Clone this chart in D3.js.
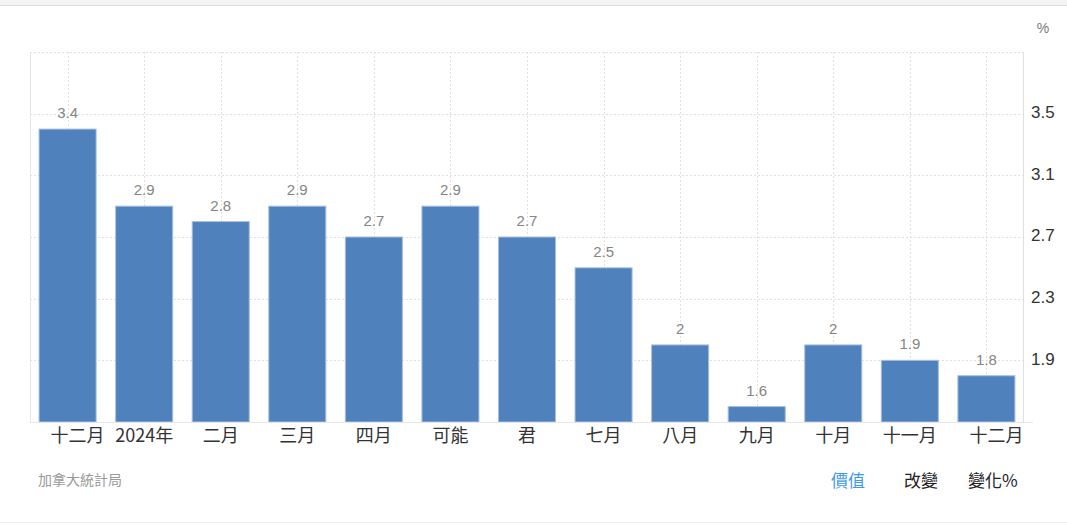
<!DOCTYPE html>
<html>
<head>
<meta charset="utf-8">
<script src="https://cdn.jsdelivr.net/npm/d3@7"></script>
<style>
html,body{margin:0;padding:0;background:#fff;}
svg{display:block;font-family:"Noto Sans CJK TC","Noto Sans",Arial,sans-serif;}
</style>
</head>
<body>
<svg id="chart" width="1067" height="525"></svg>
<script>
const categories = ["十二月","2024年","二月","三月","四月","可能","君","七月","八月","九月","十月","十一月","十二月"];
const values = [3.4, 2.9, 2.8, 2.9, 2.7, 2.9, 2.7, 2.5, 2.0, 1.6, 2.0, 1.9, 1.8];
const valueLabels = ["3.4","2.9","2.8","2.9","2.7","2.9","2.7","2.5","2","1.6","2","1.9","1.8"];
const yTicks = [1.9, 2.3, 2.7, 3.1, 3.5];
const yDomain = [1.5, 3.9];
const legendItems = ["價值","改變","變化%"];
const sourceText = "加拿大統計局";
const unitText = "%";

const svg = d3.select("#chart");
const W = 1067, H = 525;
const plot = {left: 30, right: 1023, top: 52, bottom: 422};

// top strip and bottom line
svg.append("rect").attr("x",0).attr("y",0).attr("width",W).attr("height",5).attr("fill","#f4f4f4");
svg.append("line").attr("x1",0).attr("x2",W).attr("y1",5.5).attr("y2",5.5).attr("stroke","#dcdcdc");
svg.append("line").attr("x1",0).attr("x2",W).attr("y1",522.5).attr("y2",522.5).attr("stroke","#ececec");

const x = d3.scaleBand().domain(d3.range(categories.length)).range([plot.left - 0.5, plot.right + 1.5]).paddingInner(0.255).paddingOuter(0.125);
const y = d3.scaleLinear().domain(yDomain).range([plot.bottom, plot.top]);

const grid = svg.append("g");
grid.selectAll("line.h").data(yTicks.concat([yDomain[1]])).join("line")
  .attr("x1", plot.left).attr("x2", plot.right)
  .attr("y1", d => Math.round(y(d)) + 0.5).attr("y2", d => Math.round(y(d)) + 0.5)
  .attr("stroke", "#e0e0e0").attr("stroke-dasharray", "2,2");
grid.selectAll("line.v").data(d3.range(categories.length)).join("line")
  .attr("x1", d => Math.round(x(d) + x.bandwidth()/2) + 0.5)
  .attr("x2", d => Math.round(x(d) + x.bandwidth()/2) + 0.5)
  .attr("y1", plot.top).attr("y2", plot.bottom)
  .attr("stroke", "#e0e0e0").attr("stroke-dasharray", "2,2");
svg.append("line").attr("x1", plot.left + 0.5).attr("x2", plot.left + 0.5).attr("y1", plot.top).attr("y2", plot.bottom).attr("stroke", "#e6e6e6");

// bars
svg.append("g").selectAll("rect").data(values).join("rect")
  .attr("x", (d,i) => x(i)).attr("width", x.bandwidth())
  .attr("y", d => y(d)).attr("height", d => plot.bottom - y(d))
  .attr("fill", "#4f81bd").attr("stroke", "#a7bfdf").attr("stroke-width", 1);

// value labels
svg.append("g").selectAll("text").data(values).join("text")
  .attr("x", (d,i) => x(i) + x.bandwidth()/2)
  .attr("y", d => y(d) - 11)
  .attr("text-anchor", "middle")
  .attr("font-size", 15).attr("fill", "#858585")
  .attr("font-family", "'Liberation Sans', Arial, sans-serif")
  .text((d,i) => valueLabels[i]);

// x axis baseline
svg.append("line").attr("x1", plot.left).attr("x2", plot.right + 10).attr("y1", plot.bottom + 0.5).attr("y2", plot.bottom + 0.5).attr("stroke", "#e6e6e6");

// x axis labels
const xAxis = d3.axisBottom(x).tickSize(0).tickPadding(5).tickFormat(i => categories[i]);
const gx = svg.append("g").attr("transform", `translate(0,${plot.bottom})`).call(xAxis);
gx.select(".domain").remove();
gx.selectAll("text").attr("font-size", 18).attr("fill", "#333").attr("dy", "0.85em")
  .attr("font-family", "'Noto Sans CJK TC', sans-serif")
  .attr("dx", (i) => (i === 0 || i === categories.length - 1) ? 10 : 0);

// right y axis
const yAxis = d3.axisRight(y).tickValues(yTicks).tickSize(0).tickPadding(8).tickFormat(d3.format(".1f"));
const gy = svg.append("g").attr("transform", `translate(${plot.right},0)`).call(yAxis);
gy.select(".domain").attr("stroke", "#e0e0e0").attr("d", `M0.5,${plot.top}V${plot.bottom}`);
gy.selectAll("text").attr("font-size", 17).attr("fill", "#333").attr("dy", "0.22em")
  .attr("font-family", "'Liberation Sans', Arial, sans-serif");

// unit
svg.append("text").attr("x", 1043).attr("y", 33).attr("text-anchor", "middle")
  .attr("font-size", 14).attr("fill", "#777").attr("font-family", "'Liberation Sans', Arial, sans-serif").text(unitText);

// source
svg.append("text").attr("x", 38).attr("y", 485).attr("font-size", 14).attr("fill", "#999")
  .attr("font-family", "'Noto Sans CJK TC', sans-serif").text(sourceText);

// legend items
const legendX = [831, 904, 968];
const legendColors = ["#3d9ae8", "#222", "#222"];
svg.append("g").selectAll("text").data(legendItems).join("text")
  .attr("x", (d,i) => legendX[i]).attr("y", 487)
  .attr("font-size", 17).attr("fill", (d,i) => legendColors[i])
  .attr("font-family", "'Noto Sans CJK TC', sans-serif")
  .text(d => d);
</script>
</body>
</html>
